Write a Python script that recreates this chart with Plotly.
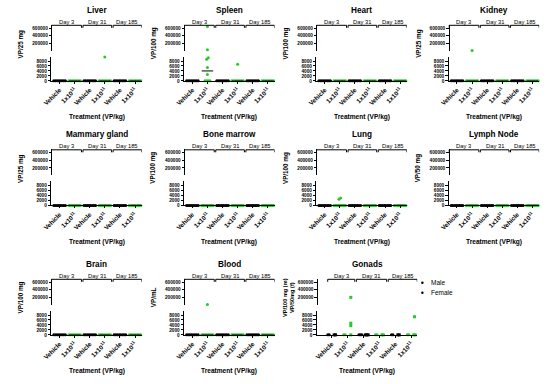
import plotly.graph_objects as go
import statistics

W, H = 550, 384
GREEN = "#22cc22"
BLACK = "#000000"
FONT = "Liberation Sans, Arial, sans-serif"

# ---------------- data ----------------
organs = ["Liver", "Spleen", "Heart", "Kidney",
          "Mammary gland", "Bone marrow", "Lung", "Lymph Node",
          "Brain", "Blood", "Gonads"]
y_titles = ["VP/25 mg", "VP/100 mg", "VP/100 mg", "VP/25 mg",
            "VP/25 mg", "VP/100 mg", "VP/100 mg", "VP/50 mg",
            "VP/100 mg", "VP/mL", "VP/100 mg (m)<br>VP/50mg (f)"]
group_labels = ["Vehicle", "1x10<sup>11</sup>", "Vehicle", "1x10<sup>11</sup>",
                "Vehicle", "1x10<sup>11</sup>"]
group_is_treated = [False, True, False, True, False, True]
day_labels = ["Day 3", "Day 31", "Day 185"]
legend_labels = ["Male", "Female"]
lower_ticks = [0, 2000, 4000, 6000, 8000]
upper_ticks = [200000, 400000, 600000]
lower_range = [0, 9800]
upper_range = [10000, 687500]

Z = [0, 0, 0, 0, 0, 0, 0, 0]

liver = [Z, Z, Z, Z + [9600], Z, Z]
spleen = [Z, [0, 0, 0, 0, 2600, 5400, 8700, 9300, 30000, 640000], Z, Z + [6700], Z, Z]
heart = [Z, Z, Z, Z, Z, Z]
kidney = [Z, Z + [15000], Z, Z, Z, Z]
mammary = [Z, Z, Z, Z, Z, Z]
bone_marrow = [Z, Z, Z, Z, Z, Z]
lung = [Z, Z + [2500, 3000], Z, Z, Z, Z]
lymph_node = [Z, Z, Z, Z, Z, Z]
brain = [Z, Z, Z, Z, Z, Z]
blood = [Z, Z + [15000], Z, Z, Z, Z]
gonads_male = [[0, 0], [0, 0], [0, 0, 0], [0, 0], [0, 0], [0, 0]]
gonads_female = [[0, 0], [0, 3700, 4700, 200000], [0, 0, 0], [0, 0], [0, 0], [0, 0, 7300]]

panel_data = [liver, spleen, heart, kidney, mammary, bone_marrow,
              lung, lymph_node, brain, blood, None]

# ---------------- layout geometry ----------------
panel_x0 = [43, 178, 312.5, 447, 43, 178, 312.5, 447, 43, 178, 313]
panel_row = [0, 0, 0, 0, 1, 1, 1, 1, 2, 2, 2]
row_off = [0, 125.5, 256]
PW = 92


def fx(px):
    return px / W


def fy(py):
    return 1 - py / H


def spread_offsets(vals, tol, step=0.11):
    order = sorted(range(len(vals)), key=lambda i: vals[i])
    clusters = []
    for i in order:
        if clusters and abs(vals[i] - vals[clusters[-1][-1]]) < tol:
            clusters[-1].append(i)
        else:
            clusters.append([i])
    offs = [0.0] * len(vals)
    for c in clusters:
        n = len(c)
        for k, i in enumerate(c):
            offs[i] = (k - (n - 1) / 2) * step
    return offs


fig = go.Figure()
layout = {}
annotations = []
shapes = []
tickfont = dict(family=FONT, size=4.7, color=BLACK, weight="bold")


def add_points(xr, ylr, yur, xs, ys, color, symbol):
    lx = [x for x, y in zip(xs, ys) if y <= lower_range[1]]
    ly = [y for y in ys if y <= lower_range[1]]
    ux = [x for x, y in zip(xs, ys) if y > lower_range[1]]
    uy = [y for y in ys if y > lower_range[1]]
    if lx:
        fig.add_trace(go.Scatter(x=lx, y=ly, xaxis=xr, yaxis=ylr, mode="markers",
                                 marker=dict(color=color, size=3, symbol=symbol, line=dict(width=0)),
                                 cliponaxis=False, showlegend=False, hoverinfo="skip"))
    if ux:
        fig.add_trace(go.Scatter(x=ux, y=uy, xaxis=xr, yaxis=yur, mode="markers",
                                 marker=dict(color=color, size=3, symbol=symbol, line=dict(width=0)),
                                 cliponaxis=False, showlegend=False, hoverinfo="skip"))


for p, name in enumerate(organs):
    n = p + 1
    xr = "x" if n == 1 else f"x{n}"
    ylo, yup = 2 * p + 1, 2 * p + 2
    ylr = "y" if ylo == 1 else f"y{ylo}"
    yur = f"y{yup}"
    ro = row_off[panel_row[p]]
    x0 = panel_x0[p]
    gon = name == "Gonads"
    x1 = 415 if gon else x0 + PW
    xrange = [-0.93, 5.37] if gon else [-0.55, 5.45]

    xkey = "xaxis" if n == 1 else f"xaxis{n}"
    ylkey = "yaxis" if ylo == 1 else f"yaxis{ylo}"
    yukey = f"yaxis{yup}"

    layout[xkey] = dict(domain=[fx(x0), fx(x1)], range=xrange, anchor=ylr,
                        tickvals=list(range(6)), ticktext=group_labels, tickangle=-45,
                        showline=True, linecolor=BLACK, linewidth=1, ticks="outside",
                        ticklen=2, tickwidth=1, tickcolor=BLACK, showgrid=False,
                        zeroline=False, tickfont=dict(family=FONT, size=6.3, color=BLACK, weight="bold"))
    layout[ylkey] = dict(domain=[fy(ro + 81.5), fy(ro + 57)], range=lower_range, anchor=xr,
                         tickvals=lower_ticks, tickformat="d", showline=True, linecolor=BLACK, linewidth=1,
                         ticks="outside", ticklen=2.5, tickwidth=1, tickcolor=BLACK,
                         showgrid=False, zeroline=False, tickfont=tickfont)
    layout[yukey] = dict(domain=[fy(ro + 51), fy(ro + 25)], range=upper_range, anchor="free",
                         position=fx(x0), tickvals=upper_ticks, tickformat="d", showline=True,
                         linecolor=BLACK, linewidth=1, ticks="outside", ticklen=2.5, tickwidth=1,
                         tickcolor=BLACK, showgrid=False, zeroline=False, tickfont=tickfont)

    # invisible anchor trace so the upper segment axis is always drawn
    fig.add_trace(go.Scatter(x=[xrange[0]], y=[upper_range[1]], xaxis=xr, yaxis=yur, mode="markers",
                             marker=dict(size=1, opacity=0), showlegend=False, hoverinfo="skip"))

    lower_tol = (lower_range[1] - lower_range[0]) / 24.5 * 2.5
    if not gon:
        groups = panel_data[p]
        med_x, med_y = [], []
        for gi, vals in enumerate(groups):
            color = GREEN if group_is_treated[gi] else BLACK
            offs = spread_offsets(vals, lower_tol)
            xs = [gi + o for o in offs]
            m = statistics.median(vals)
            if m <= lower_range[1]:
                med_x += [gi - 0.38, gi + 0.38, None]
                med_y += [m, m, None]
            add_points(xr, ylr, yur, xs, vals, color, "circle")
        fig.add_trace(go.Scatter(x=med_x, y=med_y, xaxis=xr, yaxis=ylr, mode="lines",
                                 line=dict(color=BLACK, width=1), cliponaxis=False,
                                 showlegend=False, hoverinfo="skip"))
    else:
        for gi in range(6):
            color = GREEN if group_is_treated[gi] else BLACK
            for vals, base, sym in ((gonads_male[gi], -0.2, "circle"),
                                    (gonads_female[gi], 0.2, "square")):
                offs = spread_offsets(vals, lower_tol, step=0.09)
                xs = [gi + base + o for o in offs]
                add_points(xr, ylr, yur, xs, vals, color, sym)

    # brackets with day labels
    if gon:
        bounds = [(-0.25, 1.45), (1.55, 3.45), (3.55, 5.37)]
    else:
        bounds = [(-0.55, 1.45), (1.55, 3.45), (3.55, 5.45)]
    for (a, b), dl in zip(bounds, day_labels):
        yb = fy(ro + 25.5)
        ye = fy(ro + 28)
        shapes.append(dict(type="line", xref=xr, yref="paper", x0=a, x1=b, y0=yb, y1=yb,
                           line=dict(color=BLACK, width=1)))
        shapes.append(dict(type="line", xref=xr, yref="paper", x0=a, x1=a, y0=yb, y1=ye,
                           line=dict(color=BLACK, width=1)))
        shapes.append(dict(type="line", xref=xr, yref="paper", x0=b, x1=b, y0=yb, y1=ye,
                           line=dict(color=BLACK, width=1)))
        annotations.append(dict(text=dl, xref=xr, yref="paper", x=(a + b) / 2, y=fy(ro + 22),
                                showarrow=False, xanchor="center", yanchor="middle",
                                font=dict(family=FONT, size=5.8, color=BLACK)))

    cx = (x0 + x1) / 2
    annotations.append(dict(text=name, xref="paper", yref="paper", x=fx(cx), y=fy(ro + 10.5),
                            showarrow=False, xanchor="center", yanchor="middle",
                            font=dict(family=FONT, size=8.2, color=BLACK, weight="bold")))
    ytx = x0 - 31 if not gon else x0 - 29
    annotations.append(dict(text=y_titles[p], xref="paper", yref="paper", x=fx(ytx), y=fy(ro + 44),
                            showarrow=False, xanchor="center", yanchor="middle", textangle=-90,
                            font=dict(family=FONT, size=5.6 if gon else 6.3, color=BLACK, weight="bold")))
    annotations.append(dict(text="Treatment (VP/kg)", xref="paper", yref="paper", x=fx(cx),
                            y=fy(ro + 118), showarrow=False, xanchor="center", yanchor="middle",
                            font=dict(family=FONT, size=6.6, color=BLACK, weight="bold")))

# legend for gonads (glyph + label)
for i, lab in enumerate(legend_labels):
    ly = 285 + i * 10
    shapes.append(dict(type="circle", xref="paper", yref="paper",
                       x0=fx(419), x1=fx(421.5), y0=fy(ly + 1.25), y1=fy(ly - 1.25),
                       fillcolor=BLACK, line=dict(width=0)))
    annotations.append(dict(text=lab, xref="paper", yref="paper", x=fx(427), y=fy(ly),
                            showarrow=False, xanchor="left", yanchor="middle",
                            font=dict(family=FONT, size=6.5, color=BLACK)))

fig.update_layout(
    width=W, height=H, margin=dict(l=0, r=0, t=0, b=0),
    paper_bgcolor="white", plot_bgcolor="white",
    annotations=annotations, shapes=shapes,
    showlegend=False,
    **layout,
)

fig.write_html("out.html", config={"displayModeBar": False},
               post_script="document.body.style.margin='0';")
